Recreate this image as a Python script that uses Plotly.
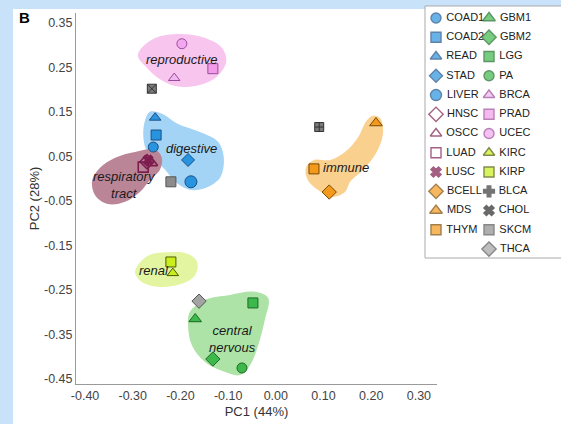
import plotly.graph_objects as go

# ---------------- data ----------------
categories = ["COAD1", "COAD2", "READ", "STAD", "LIVER", "HNSC", "OSCC", "LUAD", "LUSC",
              "BCELL", "MDS", "THYM", "GBM1", "GBM2", "LGG", "PA", "BRCA", "PRAD", "UCEC",
              "KIRC", "KIRP", "BLCA", "CHOL", "SKCM", "THCA"]
pc1 = [-0.257, -0.251, -0.253, -0.184, -0.178, -0.270, -0.260, -0.278, -0.268,
       0.112, 0.210, 0.080, -0.169, -0.132, -0.048, -0.071, -0.213, -0.132, -0.197,
       -0.216, -0.220, 0.091, -0.260, -0.220, -0.161]
pc2 = [0.071, 0.098, 0.137, 0.042, -0.007, 0.038, 0.035, 0.026, 0.042,
       -0.030, 0.125, 0.022, -0.315, -0.405, -0.279, -0.425, 0.226, 0.247, 0.303,
       -0.212, -0.187, 0.116, 0.202, -0.007, -0.275]

legend_col1 = ["COAD1", "COAD2", "READ", "STAD", "LIVER", "HNSC", "OSCC", "LUAD", "LUSC",
               "BCELL", "MDS", "THYM"]
legend_col2 = ["GBM1", "GBM2", "LGG", "PA", "BRCA", "PRAD", "UCEC", "KIRC", "KIRP",
               "BLCA", "CHOL", "SKCM", "THCA"]

x_tickvals = [-0.40, -0.30, -0.20, -0.10, 0.00, 0.10, 0.20, 0.30]
x_ticktext = ["-0.40", "-0.30", "-0.20", "-0.10", "0.00", "0.10", "0.20", "0.30"]
y_tickvals = [0.35, 0.25, 0.15, 0.05, -0.05, -0.15, -0.25, -0.35, -0.45]
y_ticktext = ["0.35", "0.25", "0.15", "0.05", "-0.05", "-0.15", "-0.25", "-0.35", "-0.45"]

# cluster outlines (PC1, PC2)
reproductive_x = [-0.285, -0.253, -0.201, -0.148, -0.113, -0.104, -0.127, -0.169, -0.211, -0.247, -0.274, -0.289]
reproductive_y = [0.289, 0.316, 0.325, 0.316, 0.294, 0.262, 0.226, 0.208, 0.208, 0.226, 0.253, 0.274]
digestive_x = [-0.264, -0.239, -0.205, -0.159, -0.121, -0.109, -0.117, -0.148, -0.180, -0.211, -0.232, -0.253, -0.272, -0.278, -0.274]
digestive_y = [0.150, 0.146, 0.123, 0.105, 0.083, 0.047, 0.002, -0.021, -0.025, -0.007, 0.020, 0.042, 0.065, 0.098, 0.132]
respiratory_x = [-0.369, -0.337, -0.295, -0.253, -0.239, -0.243, -0.264, -0.285, -0.316, -0.352, -0.379, -0.385]
respiratory_y = [0.024, 0.047, 0.060, 0.065, 0.047, 0.020, -0.003, -0.030, -0.052, -0.057, -0.037, -0.003]
immune_x = [0.202, 0.218, 0.225, 0.214, 0.187, 0.156, 0.145, 0.118, 0.088, 0.067, 0.063, 0.080, 0.114, 0.145, 0.172, 0.189]
immune_y = [0.141, 0.137, 0.105, 0.065, 0.024, -0.007, -0.030, -0.041, -0.025, -0.003, 0.024, 0.042, 0.042, 0.060, 0.092, 0.128]
renal_x = [-0.289, -0.264, -0.222, -0.184, -0.165, -0.169, -0.197, -0.243, -0.281, -0.295]
renal_y = [-0.194, -0.171, -0.165, -0.169, -0.187, -0.216, -0.236, -0.243, -0.232, -0.212]
neural_x = [-0.180, -0.148, -0.096, -0.044, -0.016, -0.023, -0.037, -0.054, -0.075, -0.106, -0.148, -0.176, -0.184]
neural_y = [-0.299, -0.272, -0.261, -0.254, -0.268, -0.317, -0.374, -0.419, -0.441, -0.434, -0.412, -0.374, -0.329]

cluster_names = ["reproductive", "digestive", "respiratory<br>tract", "immune", "renal", "central<br>nervous"]
cluster_label_x = [-0.197, -0.176, -0.318, 0.147, -0.255, -0.090]
cluster_label_y = [0.267, 0.067, -0.014, 0.026, -0.207, -0.360]

# ---------------- styles ----------------
BLUE, BLUE_L = "#2893de", "#1b4f86"
MAR = "#7d1d4e"
ORG, ORG_L = "#f39a1c", "#7a4800"
GRN, GRN_L = "#3db84a", "#1d6a27"
PNK_L = "#9b4a9b"
YG, YG_L = "#c9ee1c", "#4d5a00"

style = {
    "COAD1": ("circle", BLUE, BLUE_L, 10),
    "COAD2": ("square", BLUE, BLUE_L, 10),
    "READ": ("triangle-up", BLUE, BLUE_L, 10),
    "STAD": ("diamond", BLUE, BLUE_L, 10),
    "LIVER": ("circle", BLUE, BLUE_L, 12),
    "HNSC": ("diamond-open", MAR, MAR, 11),
    "OSCC": ("triangle-up-open", MAR, MAR, 10),
    "LUAD": ("square-open", MAR, MAR, 10),
    "LUSC": ("x", MAR, MAR, 9),
    "BCELL": ("diamond", ORG, ORG_L, 11),
    "MDS": ("triangle-up", ORG, ORG_L, 11),
    "THYM": ("square", ORG, ORG_L, 10),
    "GBM1": ("triangle-up", GRN, GRN_L, 11),
    "GBM2": ("diamond", GRN, GRN_L, 11),
    "LGG": ("square", GRN, GRN_L, 10),
    "PA": ("circle", GRN, GRN_L, 10),
    "BRCA": ("triangle-up", "#efb9ef", PNK_L, 10),
    "PRAD": ("square", "#f29ce9", PNK_L, 10),
    "UCEC": ("circle", "#f2a8ef", PNK_L, 10),
    "KIRC": ("triangle-up", YG, YG_L, 10),
    "KIRP": ("square", YG, YG_L, 10),
    "BLCA": ("square-cross", "#7a7a7a", "#333333", 9),
    "CHOL": ("square-x", "#7a7a7a", "#333333", 9),
    "SKCM": ("square", "#8c8c8c", "#555555", 10),
    "THCA": ("diamond", "#a3a3a3", "#555555", 11),
}
# key symbols that differ from the plotted ones
key_override = {
    "BLCA": ("cross", "#3a3a3a", "#3a3a3a", 9),
    "CHOL": ("x", "#2a2a2a", "#2a2a2a", 9),
}

clusters = [
    (reproductive_x, reproductive_y, "#f8c5ef"),
    (digestive_x, digestive_y, "#a3d4f5"),
    (respiratory_x, respiratory_y, "#bb8598"),
    (immune_x, immune_y, "#fad08f"),
    (renal_x, renal_y, "#e3f5a0"),
    (neural_x, neural_y, "#ade3a6"),
]

FONT = "Liberation Sans, Arial, sans-serif"

fig = go.Figure()

for cx, cy, col in clusters:
    fig.add_trace(go.Scatter(
        x=cx + cx[:1], y=cy + cy[:1], mode="lines", fill="toself",
        fillcolor=col, line=dict(width=0, color=col, shape="spline", smoothing=1.0),
        hoverinfo="skip", showlegend=False))

for name, x, y in zip(categories, pc1, pc2):
    sym, fillc, linec, size = style[name]
    openish = sym.endswith("-open")
    fig.add_trace(go.Scatter(
        x=[x], y=[y], mode="markers", name=name,
        marker=dict(symbol=sym, size=size, color=fillc,
                    line=dict(color=linec, width=1.6 if openish else 1)),
        showlegend=False))

# manual two-column key on its own hidden axes
def key_style(n):
    return key_override.get(n, style[n])

for col_idx, col in enumerate([legend_col1, legend_col2]):
    fig.add_trace(go.Scatter(
        x=[col_idx] * len(col), y=[-r for r in range(len(col))],
        mode="markers+text", text=["\u00a0" + n for n in col], textposition="middle right",
        textfont=dict(family=FONT, size=11, color="#222222"),
        marker=dict(symbol=[key_style(n)[0] for n in col],
                    size=[min(key_style(n)[3], 11) for n in col],
                    color=[key_style(n)[1] for n in col],
                    line=dict(color=[key_style(n)[2] for n in col], width=1.4)),
        xaxis="x2", yaxis="y2", showlegend=False, hoverinfo="skip", cliponaxis=False))

for txt, x, y in zip(cluster_names, cluster_label_x, cluster_label_y):
    fig.add_annotation(x=x, y=y, xref="x", yref="y", text=f"<i>{txt}</i>", showarrow=False,
                       font=dict(family=FONT, size=13, color="#1a1a1a"))

fig.add_annotation(x=-0.1216, y=0.989, xref="paper", yref="paper", text="<b>B</b>",
                   showarrow=False, xanchor="left", yanchor="middle",
                   font=dict(family=FONT, size=15, color="#000000"))

fig.add_shape(type="rect", xref="paper", yref="paper", x0=-0.1299, x1=1.02, y0=-0.12, y1=1.0108,
              fillcolor="white", line=dict(width=0), layer="below")
fig.add_shape(type="rect", xref="paper", yref="paper", x0=0.7196, x1=1.02, y0=0.3396, y1=1.0189,
              fillcolor="white", line=dict(width=1, color="#aaaaaa"), layer="below")

fig.update_layout(
    width=561, height=424,
    margin=dict(l=76, r=0, t=13, b=40, pad=0),
    paper_bgcolor="#c8e2fa", plot_bgcolor="rgba(0,0,0,0)",
    font=dict(family=FONT, size=12.5, color="#333333"),
    showlegend=False,
    xaxis=dict(domain=[0, 361 / 485], range=[-0.419, 0.338], tickvals=x_tickvals, ticktext=x_ticktext,
               showline=True, linecolor="#9a9a9a", linewidth=1, ticks="", showgrid=False, zeroline=False,
               title=dict(text="PC1 (44%)", font=dict(size=13, color="#333333"), standoff=4),
               tickfont=dict(size=12.5, color="#444444")),
    yaxis=dict(range=[-0.461, 0.372], tickvals=y_tickvals, ticktext=y_ticktext,
               showline=True, linecolor="#9a9a9a", linewidth=1, ticks="", showgrid=False, zeroline=False,
               title=dict(text="PC2 (28%)", font=dict(size=13, color="#333333"), standoff=1),
               tickfont=dict(size=12.5, color="#444444")),
    xaxis2=dict(domain=[349 / 485, 1], range=[-0.2075, 2.3585], visible=False, anchor="y2"),
    yaxis2=dict(domain=[0, 1], range=[-19.01, 0.26], visible=False, anchor="x2"),
)

fig.write_html("out.html", config={"displayModeBar": False},
               post_script="document.body.style.margin='0px';document.body.style.overflow='hidden';")
